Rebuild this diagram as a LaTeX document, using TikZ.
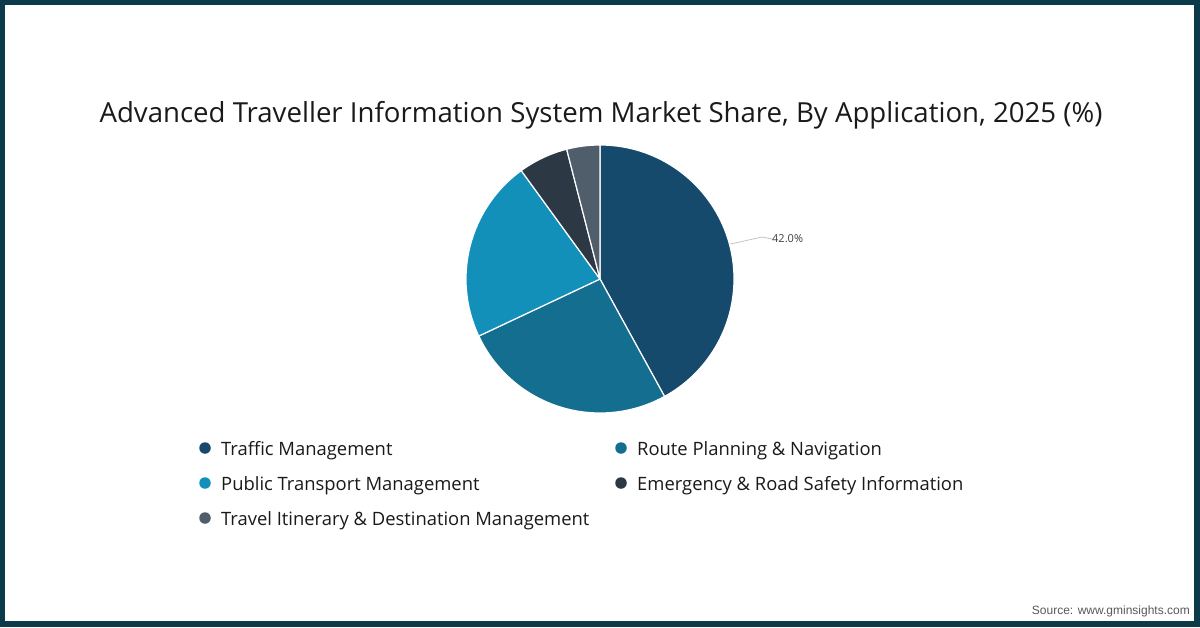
\documentclass[tikz,border=0pt]{standalone}
\usepackage{fontspec}
\setmainfont{Open Sans}
\newfontfamily\srcfont{Liberation Sans}
\definecolor{frame}{HTML}{0B3A4A}
\definecolor{cTraffic}{HTML}{154A6C}
\definecolor{cRoute}{HTML}{136E8F}
\definecolor{cPublic}{HTML}{1290B9}
\definecolor{cEmerg}{HTML}{2C3944}
\definecolor{cTravel}{HTML}{4F5E6A}
\definecolor{txt}{HTML}{1A1A1A}
\begin{document}
\begin{tikzpicture}[x=1pt,y=-1pt,
  slice/.style={draw=white,line width=1.2pt,line join=round},
  legtext/.style={anchor=west,inner sep=0pt,font=\fontsize{18.4}{22}\selectfont,text=txt},
  legdot/.style={circle,inner sep=0pt,minimum size=11.5pt}]
\useasboundingbox (0,0) rectangle (1200,627);
\fill[frame] (0,0) rectangle (1200,627);
\fill[white] (5,5) rectangle (1194,621);
\node[font=\fontsize{27.6}{32}\selectfont,text=txt,inner sep=0pt] (title) at (601,115) {Advanced Traveller Information System Market Share, By Application, 2025 (\%)};
\coordinate (c) at (600,279);
\begin{scope}[shift={(c)},x=1pt,y=1pt]
\fill[cTraffic,slice] (0,0) -- (90:134pt) arc[start angle=90,end angle=-61.2,radius=134pt] -- cycle;
\fill[cRoute,slice] (0,0) -- (-61.2:134pt) arc[start angle=-61.2,end angle=-154.8,radius=134pt] -- cycle;
\fill[cPublic,slice] (0,0) -- (-154.8:134pt) arc[start angle=-154.8,end angle=-234,radius=134pt] -- cycle;
\fill[cEmerg,slice] (0,0) -- (126:134pt) arc[start angle=126,end angle=104.4,radius=134pt] -- cycle;
\fill[cTravel,slice] (0,0) -- (104.4:134pt) arc[start angle=104.4,end angle=90,radius=134pt] -- cycle;
\coordinate (lead) at (15:135pt);
\end{scope}
\node[anchor=west,inner sep=0pt,font=\fontsize{11}{13}\selectfont,text=black!75] (pct) at (772,239) {42.0\%};
\coordinate (bend) at (762,237);
\draw[black!25,line width=0.7pt] (lead) -- (bend) -- (pct.west);
% legend
\node[legdot,fill=cTraffic] (d1) at (205,448) {};
\node[legtext] (l1) at (221,450.5) {Traffic Management};
\node[legdot,fill=cRoute] (d2) at (621,448) {};
\node[legtext] (l2) at (637,450.5) {Route Planning \& Navigation};
\node[legdot,fill=cPublic] (d3) at (205,483) {};
\node[legtext] (l3) at (221,485.5) {Public Transport Management};
\node[legdot,fill=cEmerg] (d4) at (621,483) {};
\node[legtext] (l4) at (637,485.5) {Emergency \& Road Safety Information};
\node[legdot,fill=cTravel] (d5) at (205,518) {};
\node[legtext] (l5) at (221,520.5) {Travel Itinerary \& Destination Management};
\node[anchor=east,inner sep=0pt,font=\srcfont\fontsize{12}{14}\selectfont,text=black!65] (src) at (1190,611) {Source: www.gminsights.com};
\end{tikzpicture}
\end{document}
